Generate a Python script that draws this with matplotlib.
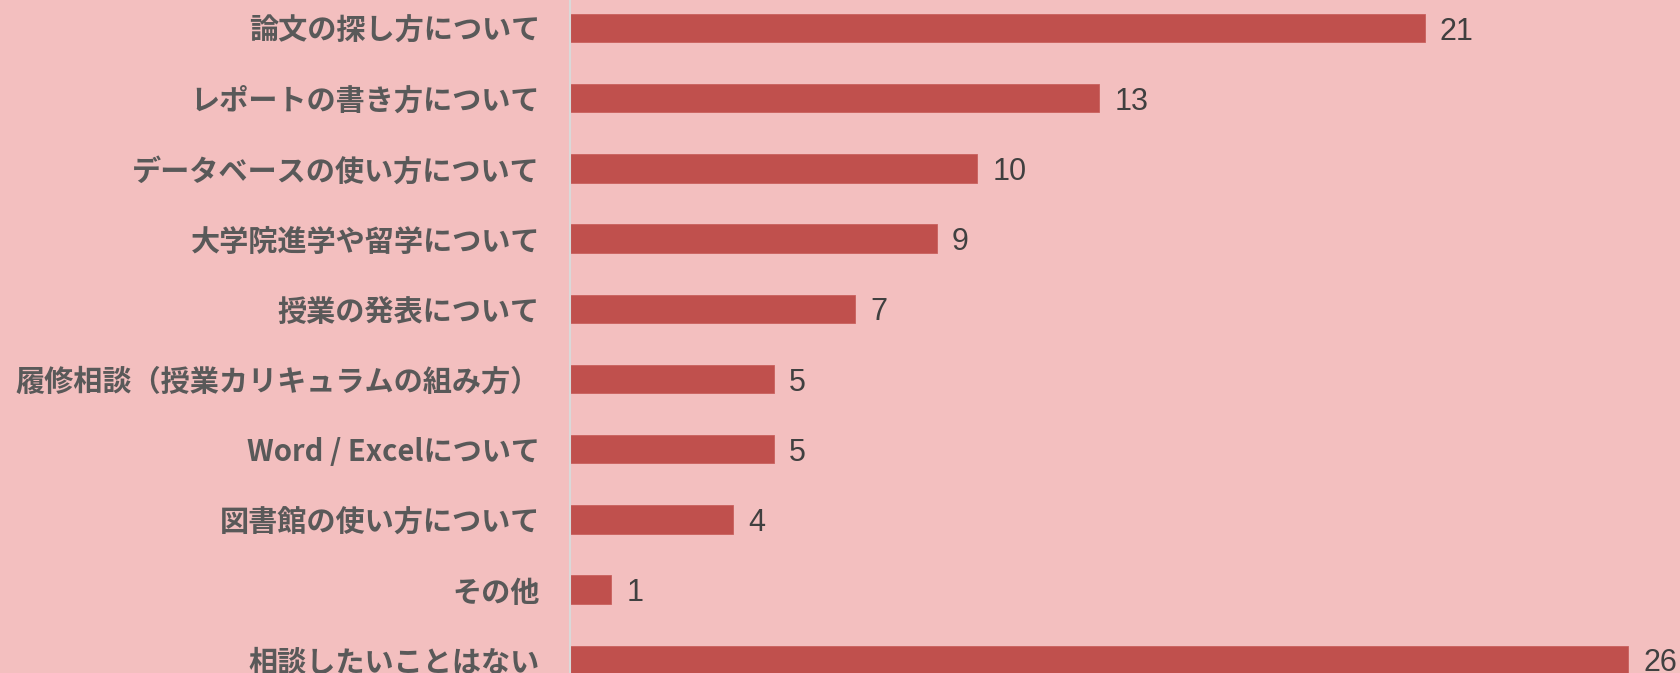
import matplotlib
matplotlib.use("Agg")
import matplotlib.pyplot as plt

categories = [
    "論文の探し方について",
    "レポートの書き方について",
    "データベースの使い方について",
    "大学院進学や留学について",
    "授業の発表について",
    "履修相談（授業カリキュラムの組み方）",
    "Word / Excelについて",
    "図書館の使い方について",
    "その他",
    "相談したいことはない",
]
values = [21, 13, 10, 9, 7, 5, 5, 4, 1, 26]

BG = "#F3BFBF"
BAR = "#C0504D"

plt.rcParams['font.family'] = ['Noto Sans CJK JP', 'DejaVu Sans']

W, H = 1681, 673
fig = plt.figure(figsize=(W / 100, H / 100), dpi=100)
fig.patch.set_facecolor(BG)

x0 = 570.5
ax = fig.add_axes([x0 / W, 0, (W - x0) / W, 1])
ax.set_facecolor(BG)

ypos = list(range(len(categories)))
ax.barh(ypos, values, height=0.403, color=BAR, edgecolor="#C9605D", linewidth=0.6, zorder=2)

ax.set_xlim(0, (W - x0) / 40.67)
ax.set_ylim((H - 28) / 70.2, -28 / 70.2)

ax.set_yticks(ypos)
ax.set_yticklabels(categories, fontsize=21, fontweight="bold", color="#595959")
ax.tick_params(axis="y", length=0, pad=22)
ax.set_xticks([])

for s in ["top", "right", "bottom"]:
    ax.spines[s].set_visible(False)
ax.spines["left"].set_color("#D9D9D9")
ax.spines["left"].set_linewidth(1.5)
ax.spines["left"].set_zorder(3)

for y, v in zip(ypos, values):
    ax.annotate(str(v), xy=(v, y), xytext=(11, -8.3), textcoords="offset points",
                ha="left", va="baseline", fontsize=22, color="#404040",
                family=["Liberation Sans", "DejaVu Sans"], annotation_clip=False)

fig.savefig("out.png", dpi=100, facecolor=BG)
